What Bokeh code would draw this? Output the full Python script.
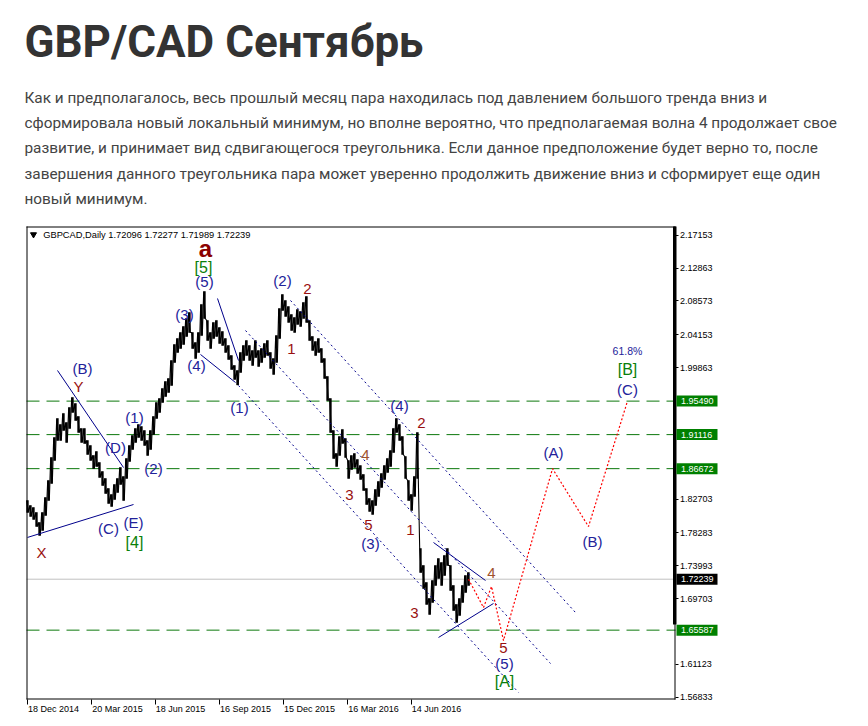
from bokeh.plotting import figure
from bokeh.models import Range1d, FixedTicker, PrintfTickFormatter, ColumnDataSource
from bokeh.embed import file_html
from bokeh.resources import INLINE
from bokeh.core.properties import value

# ---------------- data ----------------
day = list(range(1, 443, 3))  # trading-day index of each 3-day block (Dec 2014 .. Sep 2016)
hi = [1.8251, 1.8186, 1.8160, 1.8095, 1.7964, 1.8095, 1.8290, 1.8513, 1.8813, 1.9074,
      1.9322, 1.9244, 1.9388, 1.9270, 1.9466, 1.9597, 1.9518, 1.9348, 1.9192, 1.9192,
      1.9035, 1.8970, 1.8839, 1.8891, 1.8748, 1.8630, 1.8539, 1.8408, 1.8330, 1.8460,
      1.8539, 1.8682, 1.8565, 1.8800, 1.8970, 1.9100, 1.9192, 1.9244, 1.9218, 1.9165,
      1.9035, 1.9165, 1.9348, 1.9531, 1.9583, 1.9714, 1.9805, 1.9844, 2.0079, 2.0288,
      2.0366, 2.0445, 2.0523, 2.0628, 2.0706, 2.0445, 2.0314, 2.0445, 2.0811, 2.0980,
      2.0602, 2.0445, 2.0576, 2.0602, 2.0510, 2.0458, 2.0366, 2.0275, 2.0144, 2.0014,
      1.9949, 2.0184, 2.0275, 2.0340, 2.0275, 2.0210, 2.0340, 2.0210, 2.0236, 2.0301,
      2.0340, 2.0184, 2.0105, 2.0405, 2.0758, 2.0941, 2.0863, 2.0784, 2.0680, 2.0641,
      2.0745, 2.0719, 2.0837, 2.0915, 2.0602, 2.0393, 2.0327, 2.0366, 2.0236, 2.0105,
      1.9871, 1.9583, 1.9165, 1.8865, 1.9087, 1.9179, 1.9061, 1.8774, 1.8839, 1.8865,
      1.8787, 1.8708, 1.8591, 1.8408, 1.8278, 1.8251, 1.8395, 1.8500, 1.8604, 1.8708,
      1.8800, 1.8904, 1.9192, 1.9322, 1.9244, 1.9087, 1.8826, 1.8513, 1.8330, 1.8565,
      1.9139, 1.7625, 1.7403, 1.7181, 1.6972, 1.7207, 1.7403, 1.7494, 1.7442, 1.7534,
      1.7625, 1.7403, 1.7142, 1.6894, 1.6972, 1.7142, 1.7272, 1.7311]
lo = [1.8095, 1.8043, 1.8004, 1.7912, 1.7795, 1.7860, 1.8056, 1.8251, 1.8474, 1.8774,
      1.9035, 1.9035, 1.9165, 1.9009, 1.9192, 1.9401, 1.9296, 1.9139, 1.9009, 1.8996,
      1.8852, 1.8774, 1.8669, 1.8695, 1.8552, 1.8447, 1.8343, 1.8212, 1.8173, 1.8264,
      1.8356, 1.8460, 1.8251, 1.8539, 1.8761, 1.8917, 1.9009, 1.9074, 1.9035, 1.8970,
      1.8839, 1.8917, 1.9113, 1.9322, 1.9401, 1.9531, 1.9609, 1.9662, 1.9753, 2.0053,
      2.0184, 2.0236, 2.0288, 2.0393, 2.0445, 2.0236, 2.0105, 2.0184, 2.0405, 2.0628,
      2.0340, 2.0236, 2.0366, 2.0393, 2.0301, 2.0275, 2.0184, 2.0092, 1.9962, 1.9831,
      1.9760, 1.9923, 2.0079, 2.0144, 2.0079, 2.0014, 2.0118, 2.0001, 2.0053, 2.0118,
      2.0144, 1.9975, 1.9897, 2.0053, 2.0366, 2.0732, 2.0654, 2.0576, 2.0471, 2.0445,
      2.0550, 2.0523, 2.0628, 2.0576, 2.0340, 2.0210, 2.0144, 2.0184, 2.0053, 1.9844,
      1.9557, 1.9139, 1.8800, 1.8695, 1.8839, 1.8996, 1.8813, 1.8539, 1.8656, 1.8682,
      1.8604, 1.8526, 1.8382, 1.8199, 1.8108, 1.8069, 1.8186, 1.8304, 1.8421, 1.8526,
      1.8617, 1.8695, 1.8878, 1.9139, 1.9035, 1.8852, 1.8539, 1.8251, 1.8121, 1.8304,
      1.8539, 1.7311, 1.7102, 1.6894, 1.6763, 1.6920, 1.7142, 1.7233, 1.7142, 1.7272,
      1.7403, 1.7076, 1.6815, 1.6659, 1.6750, 1.6920, 1.7050, 1.7142]

date_ticks = [0.7, 64.7, 129.0, 193.0, 257.3, 321.3, 385.0]
date_labels = ["18 Dec 2014", "20 Mar 2015", "18 Jun 2015", "16 Sep 2015",
               "15 Dec 2015", "16 Mar 2016", "14 Jun 2016"]
price_ticks = [2.17153, 2.12863, 2.08573, 2.04153, 1.99863, 1.82703, 1.78283,
               1.73993, 1.69703, 1.61123, 1.56833]
level_lines = [1.95490, 1.91116, 1.86672, 1.65587]
last_price = 1.72239
header = "GBPCAD,Daily  1.72096 1.72277 1.71989 1.72239"

# forecast path (red dotted)
fc_day = [442, 457, 465, 477, 526, 562, 601]
fc_px = [1.7224, 1.6854, 1.7128, 1.6423, 1.86672, 1.7912, 1.95490]

# solid trend lines
tl_x0 = [31, 1, 191, 174, 407, 412]
tl_y0 = [1.9949, 1.7769, 2.0889, 2.0158, 1.7703, 1.6463]
tl_x1 = [97, 107, 212, 209, 459, 467]
tl_y1 = [1.8682, 1.8199, 2.0079, 1.9792, 1.7207, 1.6907]

# dotted channel lines
ch_x0 = [212, 219, 264]
ch_y0 = [1.9753, 2.0471, 2.0863]
ch_x1 = [492, 524, 549]
ch_y1 = [1.5745, 1.6123, 1.6789]

# wave labels
navy_t = ["(B)", "(1)", "(D)", "(2)", "(C)", "(E)", "(3)", "(5)", "(4)", "(1)",
          "(2)", "(3)", "(4)", "(5)", "(A)", "(B)", "(C)"]
navy_x = [56, 108, 89, 127, 82, 107, 158, 178, 170, 213, 256, 344, 373, 478, 527, 566, 601]
navy_y = [1.9975, 1.9335, 1.8943, 1.8669, 1.7886, 1.7964, 2.0680, 2.1111, 2.0014, 1.9466,
          2.1124, 1.7690, 1.9492, 1.6123, 1.8878, 1.7716, 1.9701]
red_t = ["Y", "X", "1", "2", "3", "5", "2", "1", "3", "5"]
red_x = [52, 15, 265, 281, 323, 342, 395, 384, 388, 477]
red_y = [1.9740, 1.7572, 2.0236, 2.1019, 1.8317, 1.7925, 1.9257, 1.7860, 1.6789, 1.6332]
brown_t = ["4", "4"]
brown_x = [339, 465]
brown_y = [1.8839, 1.7311]
green_t = ["[5]", "[4]", "[A]", "[B]"]
green_x = [177, 108, 478, 601]
green_y = [2.1294, 1.7703, 1.5888, 1.9962]

title = "GBP/CAD Сентябрь"
para = ["Как и предполагалось, весь прошлый месяц пара находилась под давлением большого тренда вниз и",
        "сформировала новый локальный минимум, но вполне вероятно, что предполагаемая волна 4 продолжает свое",
        "развитие, и принимает вид сдвигающегося треугольника. Если данное предположение будет верно то, после",
        "завершения данного треугольника пара может уверенно продолжить движение вниз и сформирует еще один",
        "новый минимум."]

# ---------------- geometry ----------------
W, H = 866, 722
PX = 765.9                 # pixels per price unit
CH_X0, CH_X1 = 0, 649      # chart box in day units (1 day = 1 px)
CH_Y1 = 2.18289            # price at top of chart box
CH_Y0 = CH_Y1 - 473 / PX   # price at bottom of chart box
LEFT = 26                  # chart box left edge on the page
TOP = 226                  # chart box top edge on the page
y_top = CH_Y1 + TOP / PX
y_bot = y_top - H / PX


def page_y(py):
    return y_top - py / PX


p = figure(width=W, height=H, output_backend="svg", toolbar_location=None,
           x_range=Range1d(-LEFT, W - LEFT), y_range=Range1d(y_bot, y_top),
           y_axis_location="right", min_border=0)
p.min_border_left = p.min_border_right = p.min_border_top = p.min_border_bottom = 0
p.outline_line_color = None
p.grid.visible = False
p.background_fill_color = "white"
p.border_fill_color = "white"

# right price scale (library axis placed on the chart's right edge)
ax = p.yaxis[0]
ax.fixed_location = CH_X1 - 0.5
ax.ticker = FixedTicker(ticks=price_ticks)
ax.formatter = PrintfTickFormatter(format="%.5f")
ax.axis_line_color = None
ax.major_tick_in = 0
ax.major_tick_out = 3
ax.minor_tick_line_color = None
ax.major_label_standoff = 2
ax.major_label_text_font = "Liberation Sans"
ax.major_label_text_font_size = "9px"
ax.major_label_text_color = "black"

# date scale on the chart's bottom edge: minor ticks = dates, labels left-aligned after them
lab_centers = [27, 91, 154, 219, 283, 347, 410]
xa = p.xaxis[0]
xa.fixed_location = CH_Y0
xa.ticker = FixedTicker(ticks=lab_centers, minor_ticks=date_ticks)
xa.major_label_overrides = dict(zip(lab_centers, date_labels))
xa.axis_line_color = None
xa.major_tick_line_color = None
xa.major_tick_in = 0
xa.major_tick_out = 0
xa.minor_tick_in = 0
xa.minor_tick_out = 5
xa.minor_tick_line_color = "black"
xa.major_label_standoff = -1
xa.major_label_text_font = "Liberation Sans"
xa.major_label_text_font_size = "9px"
xa.major_label_text_color = "black"

# level lines
n = len(level_lines)
p.segment([CH_X0] * n, level_lines, [CH_X1] * n, level_lines,
          line_color="#0c780c", line_dash="13 7", line_width=1)
p.segment([CH_X0], [last_price], [CH_X1], [last_price], line_color="#c0c0c0", line_width=1)

# price bars
src = ColumnDataSource(dict(x=day, hi=hi, lo=lo))
p.vbar(x="x", width=1.8, bottom="lo", top="hi", source=src,
       fill_color="black", line_color="black", line_width=0.5)
zx, zy = [], []
for d, h, l in zip(day, hi, lo):
    zx += [d - 0.8, d + 0.8]
    zy += [h, l]
p.line(zx, zy, color="black", line_width=1.1)

# trend lines
p.segment(tl_x0, tl_y0, tl_x1, tl_y1, line_color="#00008b", line_width=1)
p.segment(ch_x0, ch_y0, ch_x1, ch_y1, line_color="#00008b", line_width=1, line_dash="2 3")
p.line(fc_day, fc_px, line_color="#ff0000", line_width=1.2, line_dash="2 2")

# chart box border and thick scale bar
p.segment([CH_X0 + 0.5, CH_X0, CH_X0, CH_X1 - 0.5],
          [CH_Y0, CH_Y1 - 0.5 / PX, CH_Y0 + 0.5 / PX, CH_Y0],
          [CH_X0 + 0.5, CH_X1, CH_X1, CH_X1 - 0.5],
          [CH_Y1, CH_Y1 - 0.5 / PX, CH_Y0 + 0.5 / PX, CH_Y1],
          line_color="black", line_width=1)
p.quad(left=[CH_X1 - 2.5], right=[CH_X1 + 1], bottom=[1.6633], top=[CH_Y1],
       fill_color="black", line_color=None)

# wave labels
def lab(t, x, y, color, size, style="normal", align="center", font="Liberation Sans"):
    p.text(x=x, y=y, text=t, text_color=color, text_font=value(font),
           text_font_size=size, text_align=align, text_baseline="middle",
           text_font_style=style)


lab(navy_t, navy_x, navy_y, "#22229a", "15px")
lab(red_t, red_x, red_y, "#991010", "15px")
lab(brown_t, brown_x, brown_y, "#a0522d", "15px")
lab(green_t, green_x, green_y, "#0a800a", "16px")
lab(["a"], [179], [2.1542], "#8b0000", "24px", "bold")
lab(["61.8%"], [601], [2.0197], "#22229a", "10.5px")

# header of chart
p.scatter(x=[7], y=[page_y(234)], marker="inverted_triangle", size=6, color="black")
lab([header], [16.7], [page_y(234)], "black", "9.3px", align="left")

# boxed price labels on the right scale
box_vals = level_lines + [last_price]
box_cols = ["#008000"] * n + ["black"]
p.rect(x=[CH_X1 + 21.5] * len(box_vals), y=box_vals, width=41, height=11,
       height_units="screen", fill_color=box_cols, line_color=None)
lab(["%.5f" % v for v in box_vals], [CH_X1 + 5.5] * len(box_vals), box_vals, "white", "9px",
    align="left")

# page heading and paragraph (text centred on the given page rows)
lab([title], [-2], [page_y(41.7)], "#333333", "44px", "bold", "left", "Roboto")
lab(para, [-2] * len(para), [page_y(97.3 + 25.3 * i) for i in range(len(para))],
    "#444444", "15.35px", "normal", "left", "Roboto")

open("out.html", "w").write(file_html(p, INLINE))
